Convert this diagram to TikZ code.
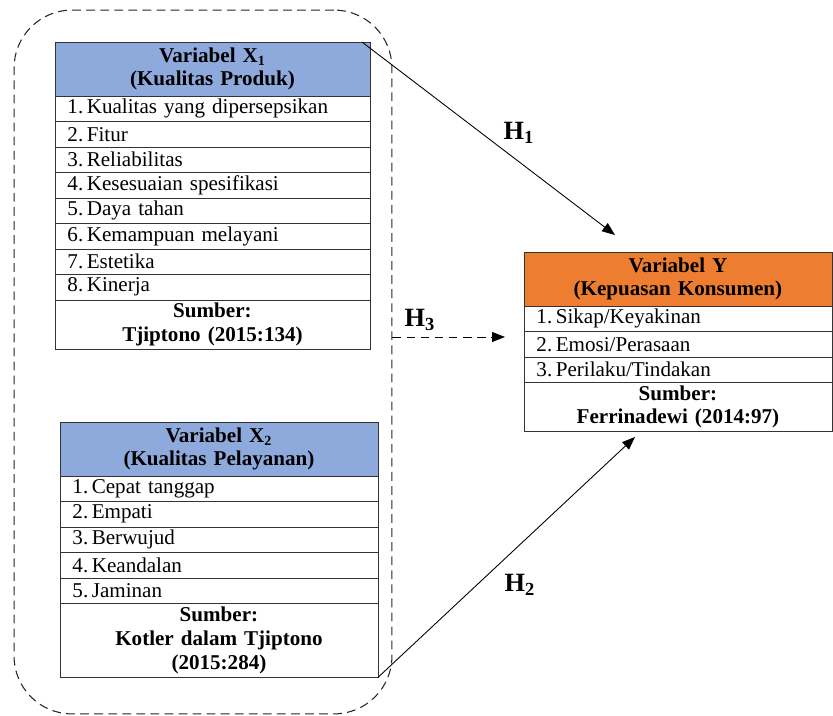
\documentclass[tikz,border=0pt]{standalone}
\usepackage{fontspec}
\setmainfont{Liberation Serif}
\usetikzlibrary{positioning,arrows.meta}

\definecolor{biruX}{HTML}{8EA9DB}
\definecolor{oranyeY}{HTML}{ED7D31}

\begin{document}
\begin{tikzpicture}[x=0.02cm, y=-0.02cm, >={Triangle[length=0.26cm, width=0.2cm]},
  judul/.style={draw=black!80, fill=#1, minimum height=1.08cm, inner xsep=0.25cm, inner ysep=0pt,
    outer sep=0pt, align=center, font=\bfseries\fontsize{12}{13}\selectfont},
  baris/.style={draw=black!80, minimum height=#1, inner xsep=0.25cm, inner ysep=0pt,
    outer sep=0pt, align=left, font=\fontsize{12}{13}\selectfont},
  baris/.default=0.51cm,
  sumber/.style={draw=black!80, minimum height=#1, inner xsep=0.25cm, inner ysep=0pt,
    outer sep=0pt, align=center, font=\bfseries\fontsize{12}{13.5}\selectfont},
  putus/.style={dash pattern=on 5pt off 3pt},
  hipotesis/.style={font=\bfseries\fontsize{15}{16}\selectfont},
  panah/.style={->, line width=0.5pt}]

  \useasboundingbox (0,0) rectangle (833,716);

  % ==========================================
  % KELOMPOK X1 DAN X2 (GARIS PUTUS-PUTUS)
  % ==========================================
  \node[draw=black!85, putus, line width=0.6pt, rounded corners=1.16cm,
        minimum width=7.56cm, minimum height=14.08cm] (kelompok) at (203,362) {};

  % ==========================================
  % VARIABEL X1 (KUALITAS PRODUK)
  % ==========================================
  \begin{scope}[nodes={text width=5.8cm}]
    \node[judul=biruX, anchor=north west] (x1judul) at (55,42) {Variabel X\textsubscript{1}\\(Kualitas Produk)};
    \node[baris, below=0pt of x1judul] (x1b1) {1.\,Kualitas yang dipersepsikan};
    \node[baris, below=0pt of x1b1] (x1b2) {2.\,Fitur};
    \node[baris, below=0pt of x1b2] (x1b3) {3.\,Reliabilitas};
    \node[baris, below=0pt of x1b3] (x1b4) {4.\,Kesesuaian spesifikasi};
    \node[baris, below=0pt of x1b4] (x1b5) {5.\,Daya tahan};
    \node[baris, below=0pt of x1b5] (x1b6) {6.\,Kemampuan melayani};
    \node[baris, below=0pt of x1b6] (x1b7) {7.\,Estetika};
    \node[baris, below=0pt of x1b7] (x1b8) {8.\,Kinerja};
    \node[sumber=0.98cm, below=0pt of x1b8] (x1sumber) {Sumber:\\Tjiptono (2015:134)};
  \end{scope}

  % ==========================================
  % VARIABEL X2 (KUALITAS PELAYANAN)
  % ==========================================
  \begin{scope}[nodes={text width=5.86cm}]
    \node[judul=biruX, anchor=north west] (x2judul) at (60,422) {Variabel X\textsubscript{2}\\(Kualitas Pelayanan)};
    \node[baris, below=0pt of x2judul] (x2b1) {1.\,Cepat tanggap};
    \node[baris, below=0pt of x2b1] (x2b2) {2.\,Empati};
    \node[baris, below=0pt of x2b2] (x2b3) {3.\,Berwujud};
    \node[baris, below=0pt of x2b3] (x2b4) {4.\,Keandalan};
    \node[baris, below=0pt of x2b4] (x2b5) {5.\,Jaminan};
    \node[sumber=1.48cm, below=0pt of x2b5] (x2sumber) {Sumber:\\Kotler dalam Tjiptono\\(2015:284)};
  \end{scope}

  % ==========================================
  % VARIABEL Y (KEPUASAN KONSUMEN)
  % ==========================================
  \begin{scope}[nodes={text width=5.66cm}]
    \node[judul=oranyeY, anchor=north west] (yjudul) at (524,252) {Variabel Y\\(Kepuasan Konsumen)};
    \node[baris, below=0pt of yjudul] (yb1) {1.\,Sikap/Keyakinan};
    \node[baris, below=0pt of yb1] (yb2) {2.\,Emosi/Perasaan};
    \node[baris, below=0pt of yb2] (yb3) {3.\,Perilaku/Tindakan};
    \node[sumber=0.98cm, below=0pt of yb3] (ysumber) {Sumber:\\Ferrinadewi (2014:97)};
  \end{scope}

  % ==========================================
  % HIPOTESIS H1, H2, H3
  % ==========================================
  \coordinate (ujungH1) at (615,235);
  \coordinate (ujungH2) at (635,437);
  \coordinate (ujungH3) at (505,337);

  \draw[panah] ([xshift=-0.16cm]x1judul.north east) -- (ujungH1);
  \draw[panah] (x2sumber.south east) -- (ujungH2);
  \draw[panah, putus] (kelompok.east |- ujungH3) -- (ujungH3);

  \node[hipotesis] (labelH1) at (519,133) {H\textsubscript{1}};
  \node[hipotesis] (labelH2) at (520,585) {H\textsubscript{2}};
  \node[hipotesis] (labelH3) at (420,320) {H\textsubscript{3}};

\end{tikzpicture}
\end{document}
